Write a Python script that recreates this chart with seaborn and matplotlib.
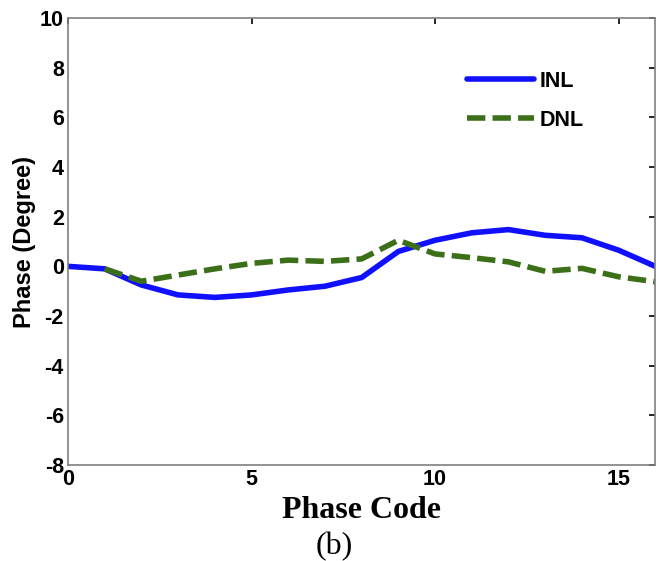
import matplotlib
matplotlib.use("Agg")
import matplotlib.pyplot as plt
import seaborn as sns
import pandas as pd

phase_code = list(range(17))
inl = [0.0, -0.1, -0.75, -1.15, -1.25, -1.15, -0.95, -0.8, -0.45, 0.6, 1.05, 1.35, 1.48, 1.25, 1.15, 0.65, 0.0]
dnl_code = list(range(1, 17))
dnl = [-0.1, -0.6, -0.35, -0.1, 0.12, 0.25, 0.2, 0.3, 1.05, 0.5, 0.35, 0.18, -0.2, -0.08, -0.42, -0.62]
x_ticks = [0, 5, 10, 15]
y_ticks = [-8, -6, -4, -2, 0, 2, 4, 6, 8, 10]

sns.set_style("white")
plt.rcParams['font.family'] = ['Liberation Sans', 'DejaVu Sans']
plt.rcParams['axes.unicode_minus'] = False
plt.rcParams['text.color'] = 'black'
plt.rcParams['axes.labelcolor'] = 'black'
plt.rcParams['xtick.color'] = 'black'
plt.rcParams['ytick.color'] = 'black'

df_inl = pd.DataFrame({"code": phase_code, "val": inl})
df_dnl = pd.DataFrame({"code": dnl_code, "val": dnl})

fig = plt.figure(figsize=(6.69, 5.61), dpi=100)
ax = fig.add_axes([0.1016, 0.171, 0.878, 0.797])

sns.lineplot(data=df_inl, x="code", y="val", ax=ax, color="#1010ff", lw=4.0, label="INL")
sns.lineplot(data=df_dnl, x="code", y="val", ax=ax, color="#3b7018", lw=4.0, label="DNL")
ax.lines[1].set_dashes([3.3, 1.3])

ax.set_xlim(0, 16)
ax.set_ylim(-8, 10)
ax.set_xticks(x_ticks)
ax.set_yticks(y_ticks)
ax.tick_params(direction="in", length=4, width=1.2, labelsize=15.5, top=True, right=True,
               color="black", labelcolor="black", pad=3)
for lab in ax.get_xticklabels() + ax.get_yticklabels():
    lab.set_fontweight("bold")
for s in ax.spines.values():
    s.set_color("#7f7f7f")
    s.set_linewidth(1.2)
    s.set_visible(True)

ax.set_xlabel("Phase Code", family=["Liberation Serif", "DejaVu Serif"], fontweight="bold", fontsize=23,
              labelpad=4, color="black")
ax.set_ylabel("Phase (Degree)", fontweight="bold", fontsize=17, labelpad=3, color="black")
fig.text(0.5, 0.0, "(b)", family=["Liberation Serif", "DejaVu Serif"], fontsize=23, ha="center", va="bottom",
         color="black")

leg = ax.legend(loc="center left", bbox_to_anchor=(0.646, 0.815), frameon=False, handlelength=3.1,
                labelspacing=0.85, handletextpad=0.3, prop={"weight": "bold", "size": 15.5})
for t in leg.get_texts():
    t.set_color("black")
for h in leg.get_lines():
    h.set_linewidth(4.0)
leg.get_lines()[1].set_dashes([3.3, 1.3])

fig.savefig("out.png", dpi=100)
